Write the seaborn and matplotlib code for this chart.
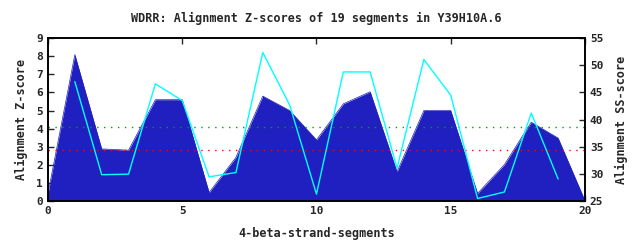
import matplotlib
matplotlib.use("Agg")
import matplotlib.pyplot as plt
import seaborn as sns
import pandas as pd

segments = list(range(0, 21))
z_scores = [0.4, 8.1, 2.87, 2.8, 5.6, 5.6, 0.45, 2.4, 5.8, 5.0, 3.37, 5.37, 6.04, 1.6,
            5.0, 5.0, 0.4, 2.0, 4.35, 3.47, 0.0]
ss_x = list(range(1, 20))
ss_scores = [47.0, 29.8, 29.9, 46.6, 43.5, 29.4, 30.2, 52.4, 42.7, 26.2, 48.8, 48.8,
             31.0, 51.1, 44.5, 25.4, 26.6, 41.2, 29.0]
green_level = 4.08
red_level = 2.82

title = "WDRR: Alignment Z-scores of 19 segments in Y39H10A.6"
xlabel = "4-beta-strand-segments"
ylabel_left = "Alignment Z-score"
ylabel_right = "Alignment SS-score"

sns.set_theme(style="ticks")
plt.rcParams['font.family'] = ['DejaVu Sans Mono', 'DejaVu Sans']
plt.rcParams['font.weight'] = 'bold'

fig = plt.figure(figsize=(6.4, 2.4), dpi=100)
ax = fig.add_axes([0.075, 0.164, 0.839, 0.676])

dfz = pd.DataFrame({"x": segments, "z": z_scores})
ax.fill_between(dfz["x"], dfz["z"], 0, color="#2020c0", linewidth=0, zorder=1)
sns.lineplot(data=dfz, x="x", y="z", ax=ax, color="#2020c0", linewidth=0.5, zorder=1)
ax.axhline(green_level, color="#00a000", linestyle=(0, (1, 4)), linewidth=1.0, zorder=2)
ax.axhline(red_level, color="#ff0000", linestyle=(0, (1, 4)), linewidth=1.0, zorder=2)

ax.set_xlim(0, 20)
ax.set_ylim(0, 9)
ax.set_xticks([0, 5, 10, 15, 20])
ax.set_yticks(range(0, 10))
ax.tick_params(axis="both", labelsize=8, length=4, width=1, direction="in")
ax.tick_params(axis="x", top=True)
ax.set_xlabel(xlabel, fontsize=8.5, fontweight="bold", labelpad=8)
ax.set_ylabel(ylabel_left, fontsize=8.5, fontweight="bold", labelpad=6)
ax.set_title(title, fontsize=8.5, fontweight="bold", pad=12)

ax2 = ax.twinx()
dfs = pd.DataFrame({"x": ss_x, "ss": ss_scores})
sns.lineplot(data=dfs, x="x", y="ss", ax=ax2, color="#00ffff", linewidth=1.0, zorder=3)
ax2.set_ylim(25, 55)
ax2.set_yticks(range(25, 56, 5))
ax2.tick_params(axis="y", labelsize=8, length=4, width=1, direction="in")
ax2.set_ylabel(ylabel_right, fontsize=8.5, fontweight="bold", labelpad=8)
ax2.set_xlabel("")

for a in (ax, ax2):
    for s in a.spines.values():
        s.set_color("black")
        s.set_linewidth(1.2)

fig.savefig("out.png", dpi=100, facecolor="white")
